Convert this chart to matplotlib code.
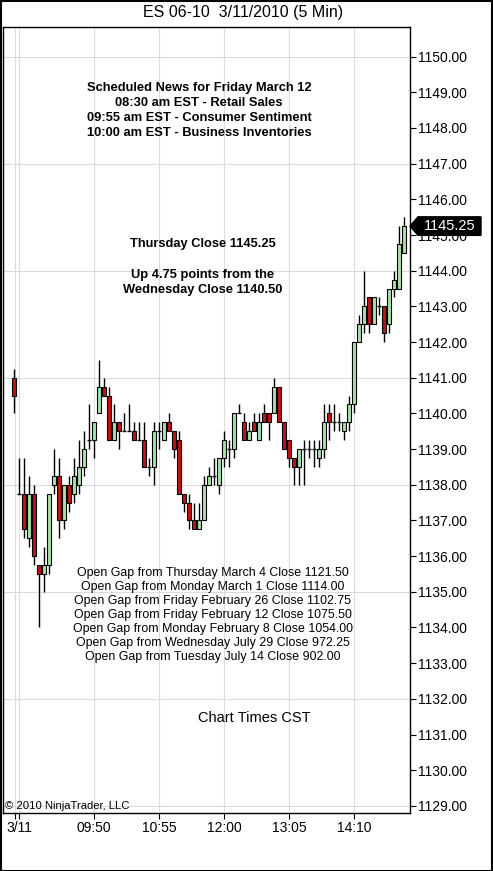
import matplotlib.pyplot as plt
import numpy as np
from matplotlib.patches import Polygon, Rectangle
import matplotlib.transforms as mtransforms

plt.rcParams['font.family'] = ['Liberation Sans', 'DejaVu Sans']

# ==== 5 min bars, ES 06-10, 3/11/2010 (bar 0 = last bar of previous session) ====
opens = [1141.0, 1137.75, 1137.75, 1136.5, 1137.75, 1135.75, 1135.5, 1135.75, 1138.0, 1138.25,
         1137.0, 1138.0, 1137.75, 1138.0, 1138.5, 1139.25, 1139.25, 1140.0, 1140.75, 1140.5,
         1139.25, 1139.75, 1139.5, 1139.5, 1139.5, 1139.25, 1139.25, 1138.5, 1138.5, 1139.5,
         1139.25, 1139.75, 1139.5, 1139.25, 1137.75, 1137.5, 1137.0, 1136.75, 1137.0, 1138.0,
         1138.25, 1138.0, 1138.75, 1139.0, 1139.0, 1140.0, 1139.75, 1139.25, 1139.75, 1139.25,
         1140.0, 1140.0, 1140.0, 1140.75, 1139.75, 1139.25, 1138.75, 1138.5, 1139.0, 1139.0,
         1139.0, 1138.75, 1139.0, 1140.0, 1139.75, 1139.75, 1139.5, 1139.75, 1140.25, 1142.0,
         1142.5, 1143.25, 1142.5, 1143.0, 1143.0, 1142.5, 1143.5, 1143.5, 1144.5]
highs = [1141.25, 1138.75, 1138.75, 1138.25, 1138.0, 1135.75, 1136.25, 1137.75, 1139.0, 1138.75,
         1138.0, 1138.25, 1138.75, 1139.25, 1139.5, 1140.25, 1139.75, 1141.5, 1141.0, 1140.75,
         1140.25, 1139.75, 1140.0, 1140.25, 1139.75, 1139.75, 1139.75, 1138.75, 1139.75, 1139.75,
         1139.75, 1140.0, 1139.5, 1139.5, 1137.75, 1137.75, 1137.5, 1137.5, 1138.25, 1138.5,
         1138.75, 1138.75, 1139.5, 1139.25, 1140.0, 1140.25, 1140.0, 1139.75, 1140.0, 1140.0,
         1140.25, 1140.0, 1141.0, 1140.75, 1139.75, 1139.25, 1138.75, 1139.0, 1139.25, 1139.25,
         1139.25, 1139.25, 1140.25, 1140.25, 1140.25, 1140.0, 1139.75, 1140.5, 1142.0, 1142.75,
         1144.0, 1143.25, 1143.25, 1143.25, 1143.0, 1143.5, 1144.0, 1145.25, 1145.5]
lows = [1140.0, 1137.75, 1136.5, 1136.25, 1135.75, 1134.0, 1135.0, 1135.5, 1137.75, 1136.5,
        1136.75, 1137.25, 1137.5, 1137.75, 1138.25, 1139.0, 1138.75, 1140.0, 1140.5, 1139.25,
        1139.25, 1139.0, 1139.5, 1139.5, 1139.25, 1139.25, 1138.5, 1138.25, 1138.0, 1139.0,
        1139.25, 1139.5, 1138.75, 1137.75, 1137.25, 1136.75, 1136.75, 1136.75, 1137.0, 1138.0,
        1138.0, 1137.75, 1138.5, 1138.5, 1138.75, 1140.0, 1139.25, 1139.25, 1139.5, 1139.25,
        1139.75, 1139.25, 1140.0, 1139.75, 1139.0, 1138.5, 1138.0, 1138.0, 1138.0, 1138.75,
        1138.5, 1138.5, 1138.75, 1139.25, 1139.5, 1139.5, 1139.25, 1139.5, 1140.0, 1142.0,
        1142.25, 1142.25, 1142.5, 1142.75, 1142.0, 1142.25, 1143.25, 1143.5, 1144.5]
closes = [1140.5, 1137.75, 1136.75, 1137.75, 1136.0, 1135.5, 1135.75, 1137.75, 1138.25, 1137.0,
          1138.0, 1137.5, 1138.25, 1138.5, 1139.0, 1139.25, 1139.75, 1140.75, 1140.5, 1139.25,
          1139.75, 1139.5, 1139.5, 1139.5, 1139.25, 1139.25, 1138.5, 1138.5, 1139.5, 1139.5,
          1139.75, 1139.5, 1139.0, 1137.75, 1137.5, 1137.0, 1136.75, 1137.0, 1138.0, 1138.25,
          1138.25, 1138.75, 1139.25, 1139.0, 1140.0, 1140.0, 1139.25, 1139.5, 1139.5, 1139.75,
          1139.75, 1139.75, 1140.75, 1139.75, 1139.0, 1138.75, 1138.5, 1139.0, 1139.0, 1139.0,
          1139.0, 1139.0, 1139.75, 1139.75, 1139.75, 1139.75, 1139.75, 1140.25, 1142.0, 1142.5,
          1143.0, 1142.5, 1143.25, 1143.0, 1142.25, 1143.5, 1143.75, 1144.75, 1145.25]

# time axis labels (bar index -> label)
tick_bars = [1, 16, 29, 42, 55, 68]
tick_labels = ['3/11', '09:50', '10:55', '12:00', '13:05', '14:10']
price_ticks = list(range(1129, 1151))
grid_levels = [1129, 1132, 1135, 1138, 1141, 1144, 1147, 1150]
last_price = 1145.25

title = 'ES 06-10  3/11/2010 (5 Min)'
news_lines = ['Scheduled News for Friday March 12',
              '08:30 am EST - Retail Sales',
              '09:55 am EST - Consumer Sentiment',
              '10:00 am EST - Business Inventories']
close_lines = ['Thursday Close 1145.25', '', 'Up 4.75 points from the', 'Wednesday Close 1140.50']
gap_lines = ['Open Gap from Thursday March 4 Close 1121.50',
             'Open Gap from Monday March 1 Close 1114.00',
             'Open Gap from Friday February 26 Close 1102.75',
             'Open Gap from Friday February 12 Close 1075.50',
             'Open Gap from Monday February 8 Close 1054.00',
             'Open Gap from Wednesday July 29 Close 972.25',
             'Open Gap from Tuesday July 14 Close 902.00']

UP = '#a8e2a8'
DOWN = '#bf1515'
W, H = 493, 871

# ==== ploting ====
fig = plt.figure(figsize=(W / 100, H / 100), dpi=100)
ax = fig.add_axes([3 / W, 1 - 813 / H, 407 / W, 786 / H])

o = np.array(opens)
h = np.array(highs)
l = np.array(lows)
c = np.array(closes)
x = np.arange(len(o))

ax.vlines(x, l, h, color='black', linewidth=1, zorder=3)
up = c > o
dn = c < o
flat = c == o
ax.bar(x[up], (c - o)[up], bottom=o[up], width=0.85, color=UP, edgecolor='black', linewidth=0.8, zorder=4)
ax.bar(x[dn], (o - c)[dn], bottom=c[dn], width=0.85, color=DOWN, edgecolor='black', linewidth=0.8, zorder=4)
ax.hlines(c[flat], x[flat] - 0.45, x[flat] + 0.45, color='black', linewidth=1, zorder=4)

for g in grid_levels:
    ax.axhline(g, color='#dcdcdc', linewidth=0.8, zorder=0)
for b in tick_bars:
    ax.axvline(b, color='#dcdcdc', linewidth=0.8, zorder=0)
ax.axvline(0.25, color='#dcdcdc', linewidth=0.8, zorder=0)

ax.set_xlim(-2.2, 79.2)
ax.set_ylim(1128.8, 1150.83)

ax.yaxis.tick_right()
ax.set_yticks(price_ticks)
ax.set_yticklabels(['%.2f' % p for p in price_ticks], fontsize=10)
ax.set_xticks(tick_bars)
ax.set_xticklabels(tick_labels, fontsize=10)
ax.set_xticks([0.25], minor=True)
ax.tick_params(axis='both', which='both', direction='out', length=4, width=0.8, pad=1.5, colors='black')
for s in ax.spines.values():
    s.set_linewidth(1)
    s.set_color('black')

# last price marker on the price axis
trans = mtransforms.blended_transform_factory(ax.transAxes, ax.transData)
px = lambda p: (p - 3) / 407.0
dh = 0.26
marker = Polygon([(px(410), last_price), (px(418), last_price + dh), (px(481), last_price + dh),
                  (px(481), last_price - dh), (px(418), last_price - dh)],
                 closed=True, transform=trans, facecolor='black', edgecolor='black', clip_on=False, zorder=10)
ax.add_patch(marker)
ax.text(px(450), last_price, '%.2f' % last_price, transform=trans, color='white', fontsize=10.5,
        ha='center', va='center', clip_on=False, zorder=11)

# ==== texts ====
fig.text(243 / W, 1 - 13 / H, title, ha='center', va='center', fontsize=11.5)
for i, s in enumerate(news_lines):
    fig.text(199 / W, 1 - (88 + 15 * i) / H, s, ha='center', va='center', fontsize=9.3, fontweight='bold')
for i, s in enumerate(close_lines):
    fig.text(203 / W, 1 - (244 + 15.3 * i) / H, s, ha='center', va='center', fontsize=9.3, fontweight='bold')
for i, s in enumerate(gap_lines):
    fig.text(213 / W, 1 - (573 + 14 * i) / H, s, ha='center', va='center', fontsize=8.9)
fig.text(254 / W, 1 - 718 / H, 'Chart Times CST', ha='center', va='center', fontsize=10.5)
fig.text(5 / W, 1 - 806 / H, '\u00a9 2010 NinjaTrader, LLC', ha='left', va='center', fontsize=8.1)

fig.patches.append(Rectangle((0.5 / W, 0.5 / H), 1 - 1.5 / W, 1 - 1.5 / H, transform=fig.transFigure,
                             fill=False, edgecolor='black', linewidth=1.5))

fig.savefig('out.png', dpi=100)
